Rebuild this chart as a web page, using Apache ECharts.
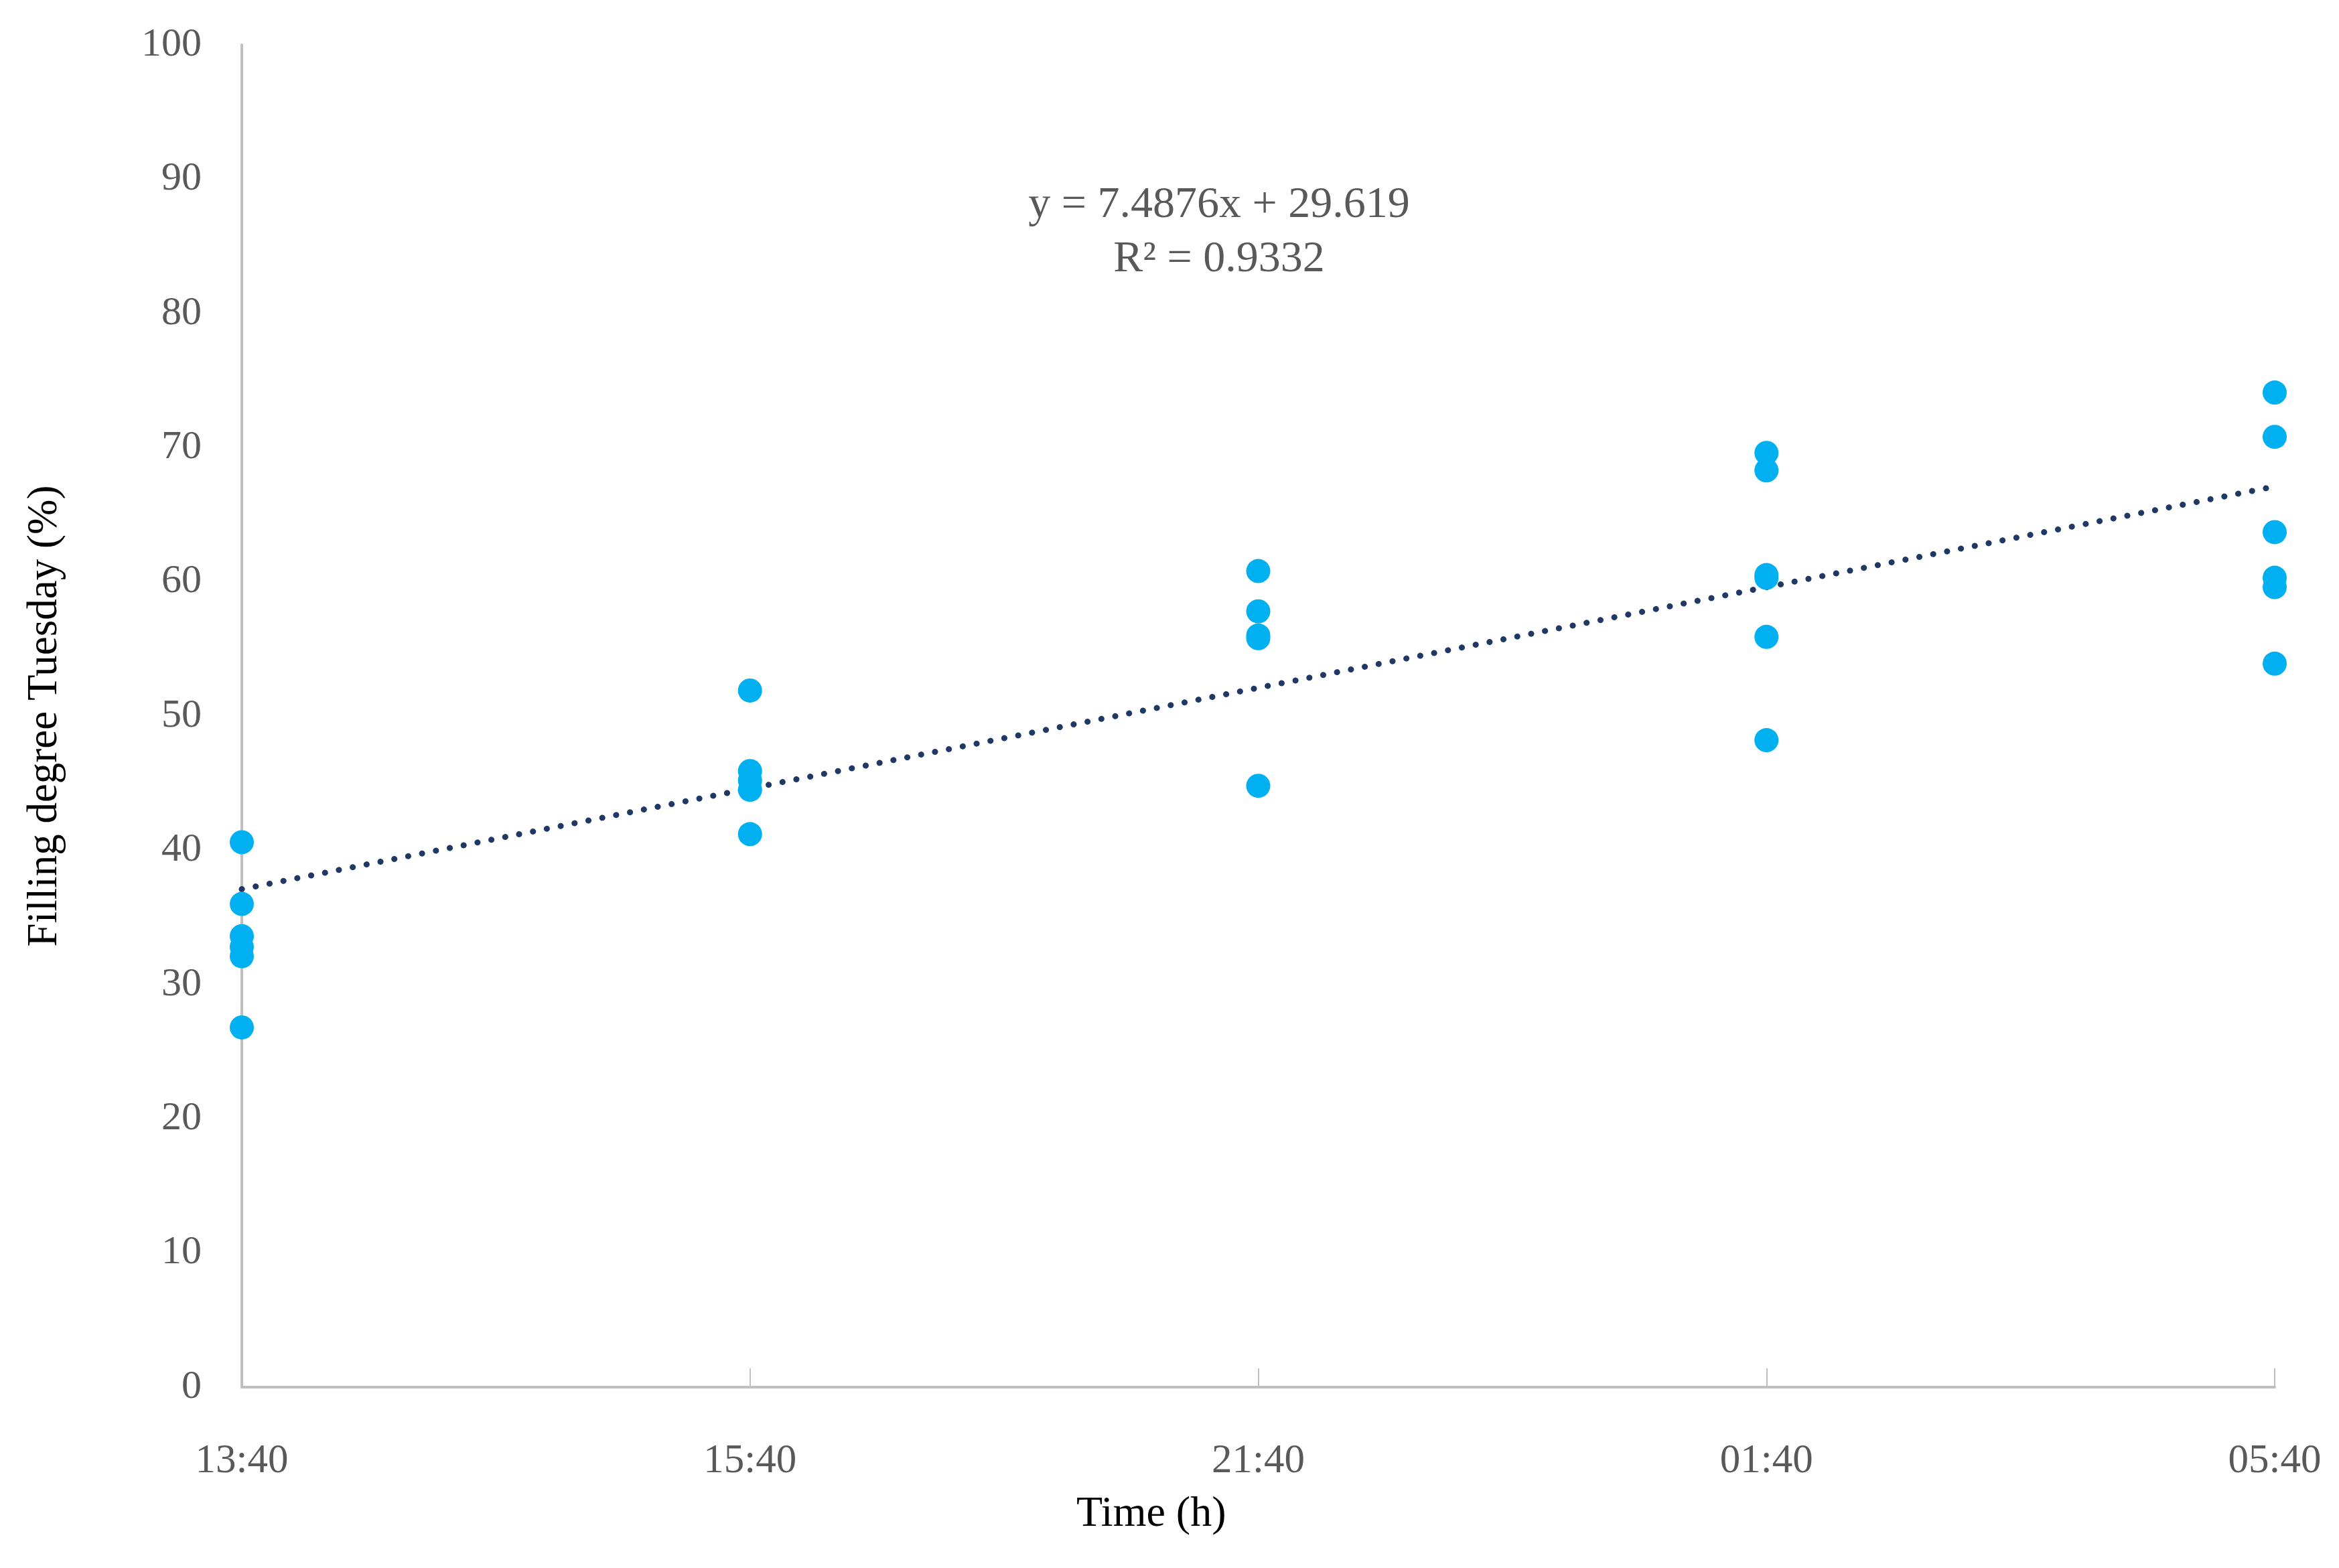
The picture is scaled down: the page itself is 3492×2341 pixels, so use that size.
<!DOCTYPE html>
<html>
<head>
<meta charset="utf-8">
<script src="https://cdn.jsdelivr.net/npm/echarts@6/dist/echarts.min.js"></script>
<style>
html,body{margin:0;padding:0;background:#fff;}
#chart{width:3492px;height:2341px;}
</style>
</head>
<body>
<div id="chart"></div>
<script>
// Category labels for the x axis (positions 0..4)
const timeLabels = ['13:40', '15:40', '21:40', '01:40', '05:40'];
// Observed filling degree per time (%)
const vals1340 = [40.6, 36.0, 33.6, 32.8, 32.1, 26.8];
const vals1540 = [51.9, 45.9, 45.2, 44.5, 41.2];
const vals2140 = [60.8, 57.8, 56.0, 55.8, 44.8];
const vals0140 = [69.6, 68.3, 60.5, 60.3, 55.9, 48.2];
const vals0540 = [74.1, 70.8, 63.7, 60.3, 59.6, 53.9];
// Linear trendline endpoints (at 13:40 and 05:40)
const trendX = [0, 4];
const trendY = [37.1, 67.1];
const yTicks = [0, 10, 20, 30, 40, 50, 60, 70, 80, 90, 100];
const eqText = 'y = 7.4876x + 29.619';
const r2Text = 'R² = 0.9332';

const groups = [vals1340, vals1540, vals2140, vals0140, vals0540];
const scatterData = [];
groups.forEach((g, i) => g.forEach(v => scatterData.push([i, v])));

const serif = '"Liberation Serif", "DejaVu Serif", serif';
const chart = echarts.init(document.getElementById('chart'), null, {renderer: 'canvas'});
chart.setOption({
  backgroundColor: '#ffffff',
  animation: false,
  grid: {left: 361, right: 96, top: 67, bottom: 270, containLabel: false},
  xAxis: {
    type: 'value', min: 0, max: timeLabels.length - 1, interval: 1,
    axisLine: {show: true, lineStyle: {color: '#BFBFBF', width: 4}},
    axisTick: {show: true, inside: true, length: 28, lineStyle: {color: '#BFBFBF', width: 2}},
    splitLine: {show: false},
    axisLabel: {
      margin: 80, fontFamily: serif, fontSize: 61, color: '#595959',
      formatter: v => timeLabels[Math.round(v)] || ''
    }
  },
  yAxis: {
    type: 'value', min: yTicks[0], max: yTicks[yTicks.length - 1], interval: 10,
    name: 'Filling degree Tuesday (%)', nameLocation: 'middle', nameGap: 262,
    nameTextStyle: {fontFamily: serif, fontSize: 63, color: '#000000'},
    axisLine: {show: true, lineStyle: {color: '#BFBFBF', width: 4}},
    axisTick: {show: false},
    splitLine: {show: false},
    axisLabel: {margin: 60, fontFamily: serif, fontSize: 60, color: '#595959'}
  },
  graphic: [
    {type: 'text', left: 1721 - 114, top: 2265 - 36,
     style: {text: 'Time (h)', font: '64px ' + serif, fill: '#000000'}},
    {type: 'text', x: 1820, y: 347,
     style: {text: eqText + '\n' + r2Text, font: '66px ' + serif, fill: '#595959',
             textAlign: 'center', textVerticalAlign: 'middle', lineHeight: 81}}
  ],
  series: [
    {
      type: 'line', data: trendX.map((x, i) => [x, trendY[i]]),
      symbol: 'none', silent: true, z: 1,
      lineStyle: {color: '#1F3864', width: 9, type: [0.1, 21], cap: 'round'}
    },
    {
      type: 'scatter', data: scatterData, symbol: 'circle', symbolSize: 36, z: 2,
      itemStyle: {color: '#00B0F0', opacity: 1}
    }
  ]
});
</script>
</body>
</html>
